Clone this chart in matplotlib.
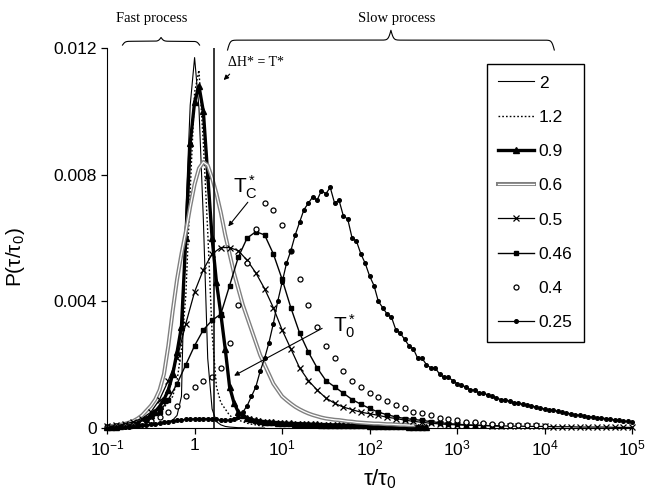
import numpy as np
import matplotlib
matplotlib.use("Agg")
import matplotlib.pyplot as plt
import matplotlib.patheffects as pe

plt.rcParams['font.family'] = ['Liberation Sans', 'DejaVu Sans']
plt.rcParams['mathtext.fontset'] = 'custom'
plt.rcParams['mathtext.rm'] = 'Liberation Sans'
plt.rcParams['mathtext.it'] = 'Liberation Sans:italic'
plt.rcParams['mathtext.bf'] = 'Liberation Sans:bold'

# ---------------- data (log10 tau/tau0 grids + P values) ----------------
p_2 = [0, 0, 0.00001, 0.00001, 0.00002, 0.00002, 0.00003, 0.00004, 0.00005, 0.00006,
       0.00008, 0.0001, 0.00012, 0.00015, 0.0002, 0.00025, 0.0004, 0.0010, 0.0068, 0.0102,
       0.0117, 0.0101, 0.0066, 0.0022, 0.0006, 0.0002, 0.0001, 0.00005, 0.00003, 0.00002,
       0.00001, 0.00001, 0, 0, 0, 0, 0]
p_12 = [0.00001, 0.00002, 0.00003, 0.00004, 0.00005, 0.00007, 0.0001, 0.00013, 0.00017, 0.00022,
        0.0003, 0.0004, 0.00052, 0.00066, 0.0008, 0.001, 0.0015, 0.0025, 0.0042, 0.0075,
        0.0106, 0.0113, 0.0090, 0.0062, 0.0030, 0.0013, 0.0008, 0.0006, 0.0004, 0.0003,
        0.00025, 0.0002, 0.00015, 0.00012, 0.0001, 0.00007, 0.00005]
p_09 = [0.00002, 0.00003, 0.00004, 0.00006, 0.00008, 0.0001, 0.00013, 0.00017, 0.00022, 0.0003,
        0.0004, 0.00052, 0.00068, 0.0009, 0.0012, 0.0017, 0.0024, 0.0032, 0.0060, 0.0090,
        0.0103, 0.0108, 0.0100, 0.0080, 0.0060, 0.0046, 0.0036, 0.0025, 0.0013, 0.0008,
        0.0005, 0.0004, 0.00032, 0.00027, 0.00024, 0.00022, 0.0002, 0.00019, 0.00018, 0.00017,
        0.00016, 0.00015, 0.00015, 0.00014, 0.00014, 0.00013, 0.00013, 0.00012, 0.00012, 0.00011,
        0.00011, 0.0001, 0.0001, 0.0001, 0.00009, 0.00009, 0.00009, 0.00008, 0.00008, 0.00008,
        0.00007, 0.00007, 0.00007, 0.00006, 0.00006, 0.00006, 0.00005, 0.00005, 0.00005, 0.00004,
        0.00004, 0.00004, 0.00003, 0.00003]
p_06 = [0.00005, 0.00006, 0.00008, 0.0001, 0.00013, 0.00017, 0.00022, 0.0003, 0.0004, 0.00055,
        0.0007, 0.0009, 0.0012, 0.0017, 0.0026, 0.0037, 0.0047, 0.0055, 0.0062, 0.0070,
        0.0077, 0.0082, 0.0084, 0.0083, 0.0079, 0.0074, 0.0068, 0.0061, 0.0055, 0.0049,
        0.0044, 0.0039, 0.0035, 0.0031, 0.0027, 0.0023, 0.0020, 0.0017, 0.0014, 0.0012,
        0.0010, 0.00088, 0.00077, 0.00067, 0.00059, 0.00052, 0.00046, 0.00041, 0.00037, 0.00033,
        0.0003, 0.00028, 0.00026, 0.00025, 0.00023, 0.00021, 0.0002, 0.00018, 0.00017, 0.00016,
        0.00015, 0.00014, 0.00014, 0.00013, 0.00012, 0.00012, 0.00011, 0.0001, 0.0001, 0.00009,
        0.00009]
p_05 = [0.00005, 0.00008, 0.00012, 0.0002, 0.0003, 0.0005, 0.0009, 0.0015, 0.0022, 0.0033,
        0.0043, 0.0050, 0.0055, 0.0057, 0.0057, 0.0056, 0.0053, 0.0049, 0.0044, 0.0038,
        0.0031, 0.0025, 0.0019, 0.0015, 0.0012, 0.00095, 0.00078, 0.00066, 0.00058, 0.0005,
        0.00045, 0.0004, 0.00034, 0.0003, 0.00025, 0.00021, 0.00018, 0.00015, 0.00013, 0.00011,
        0.0001, 0.00009, 0.00008, 0.00008, 0.00007, 0.00007, 0.00006, 0.00006, 0.00005, 0.00005,
        0.00005, 0.00004, 0.00004, 0.00004, 0.00003, 0.00003, 0.00003, 0.00003, 0.00002, 0.00002,
        0.00002]
p_046 = [0.00003, 0.00005, 0.00008, 0.00012, 0.0002, 0.0003, 0.0005, 0.0009, 0.0014, 0.0020,
         0.0026, 0.0031, 0.0034, 0.0036, 0.0045, 0.0054, 0.0060, 0.0062, 0.0061, 0.0055,
         0.0047, 0.0038, 0.0030, 0.0024, 0.0019, 0.0015, 0.0013, 0.0011, 0.0009, 0.00075,
         0.00062, 0.0005, 0.00042, 0.00035, 0.0003, 0.00027, 0.00024, 0.0002, 0.00017, 0.00014,
         0.00012, 0.0001, 0.00009, 0.00008, 0.00007, 0.00006]
p_04 = [0.00003, 0.00005, 0.00007, 0.0001, 0.00015, 0.00022, 0.00035, 0.0005, 0.0007, 0.001,
        0.0013, 0.0015, 0.0016, 0.0019, 0.0027, 0.0039, 0.0052, 0.0063, 0.0071, 0.0069,
        0.0064, 0.0056, 0.0047, 0.0039, 0.0032, 0.0026, 0.0022, 0.0018, 0.0015, 0.0013,
        0.0011, 0.00098, 0.00085, 0.00072, 0.00062, 0.00052, 0.00047, 0.0004, 0.00033, 0.00027,
        0.00024, 0.0002, 0.00018, 0.00016, 0.00014, 0.00012, 0.00011, 0.0001, 0.00009, 0.00008,
        0.00007]
p_025 = [0.00001, 0.00001, 0.00002, 0.00002, 0.00003, 0.00004, 0.00005, 0.00006, 0.00008, 0.0001,
         0.00012, 0.00014, 0.00016, 0.00018, 0.0002, 0.00022, 0.00024, 0.00026, 0.00027, 0.00028,
         0.00029, 0.0003, 0.0003, 0.0003, 0.00029, 0.00027, 0.00025, 0.00024, 0.00025, 0.0003,
         0.00035, 0.0005, 0.0007, 0.001, 0.0013, 0.0018, 0.0022, 0.0027, 0.0033, 0.004,
         0.0046, 0.0052, 0.0056, 0.0061, 0.0065, 0.0069, 0.0071, 0.0073, 0.0072, 0.0075,
         0.0074, 0.0076, 0.0071, 0.0072, 0.0067, 0.0066, 0.0060, 0.0059, 0.0055, 0.0052,
         0.0048, 0.0045, 0.0040, 0.0038, 0.0036, 0.0035, 0.0031, 0.0030, 0.0028, 0.0026,
         0.0025, 0.0022, 0.0022, 0.0020, 0.0019, 0.0019, 0.0017, 0.0016, 0.0016, 0.0015,
         0.0014, 0.00135, 0.0013, 0.0012, 0.0012, 0.0011, 0.0011, 0.00105, 0.001, 0.00095,
         0.0009, 0.00088, 0.00085, 0.0008, 0.00078, 0.00075, 0.00073, 0.0007, 0.00066, 0.00063,
         0.0006, 0.00058, 0.00056, 0.00053, 0.0005, 0.00047, 0.00045, 0.00042, 0.0004, 0.00038,
         0.00036, 0.00034, 0.00032, 0.00031, 0.0003, 0.00028, 0.00026, 0.00024, 0.00022, 0.00021,
         0.0002]

# sampling range (log10 start, log10 end) of every series
grid_2 = (-1.0, 0.8)
grid_12 = (-1.0, 0.8)
grid_09 = (-1.0, 2.65)
grid_06 = (-1.0, 2.5)
grid_05 = (-1.0, 5.0)
grid_046 = (-1.0, 3.5)
grid_04 = (-1.0, 4.0)
grid_025 = (-1.0, 5.0)

x_ticks = [0.1, 1, 10, 100, 1000, 10000, 100000]
x_ticklabels = ['$10^{-1}$', '1', '$10^{1}$', '$10^{2}$', '$10^{3}$', '$10^{4}$', '$10^{5}$']
y_ticks = [0, 0.004, 0.008, 0.012]
y_ticklabels = ['0', '0.004', '0.008', '0.012']
dH_x = 1.65  # position of the Delta H* = T* line


def tau(grid, vals):
    return 10 ** np.linspace(grid[0], grid[1], len(vals))


def brace(ax, xa, xb, y_edge, y_main, beta=400):
    # curly brace in axes fraction coordinates
    L = xb - xa
    xs = np.linspace(0, L / 2, 200)
    half = 1 / (1 + np.exp(-beta * xs)) + 1 / (1 + np.exp(-beta * (xs - L / 2)))
    yy = np.concatenate([half, half[-2::-1]])
    xx = np.concatenate([xs, L - xs[-2::-1]]) + xa
    yy = y_edge + (yy - 0.5) * (y_main - y_edge) / 0.5
    ax.plot(xx, yy, color='black', lw=0.8, transform=ax.transAxes, clip_on=False)


def xfrac(x):
    return (np.log10(x) + 1) / 6


fig = plt.figure(figsize=(6.49, 4.94), dpi=100)
ax = fig.add_axes([0.165, 0.1336, 0.809, 0.769])

ax.plot(tau(grid_2, p_2), p_2, color='black', lw=0.8, label='2', clip_on=False)
ax.plot(tau(grid_12, p_12), p_12, color='black', lw=1.0, ls=(0, (1.2, 1.5)), label='1.2', clip_on=False)
ax.plot(tau(grid_09, p_09), p_09, color='black', lw=2.4, marker='^', ms=5, label='0.9', clip_on=False)
ax.plot(tau(grid_06, p_06), p_06, color='white', lw=0.9, label='0.6', clip_on=False,
        path_effects=[pe.Stroke(linewidth=2.9, foreground='0.5'), pe.Normal()])
ax.plot(tau(grid_05, p_05), p_05, color='black', lw=0.9, marker='x', ms=4, mew=0.9, label='0.5', clip_on=False)
ax.plot(tau(grid_046, p_046), p_046, color='black', lw=1.0, marker='s', ms=3.5, label='0.46', clip_on=False)
ax.plot(tau(grid_04, p_04), p_04, color='black', ls='none', marker='o', ms=3.6, mfc='white', mew=0.9,
        label='0.4', clip_on=False)
ax.plot(tau(grid_025, p_025), p_025, color='black', lw=0.9, marker='o', ms=2.6, label='0.25', clip_on=False)

ax.axvline(dH_x, ymin=0, ymax=1, color='black', lw=1.1)

ax.set_xscale('log')
ax.set_xlim(0.1, 1e5)
ax.set_ylim(0, 0.012)
ax.set_xticks(x_ticks)
ax.set_xticklabels(x_ticklabels)
ax.xaxis.set_minor_locator(matplotlib.ticker.NullLocator())
ax.set_yticks(y_ticks)
ax.set_yticklabels(y_ticklabels)
ax.tick_params(labelsize=12.5, direction='out', length=4, width=0.9)
for s in ['top', 'right']:
    ax.spines[s].set_visible(False)

ax.set_ylabel('P(τ/τ$_0$)', fontsize=15)
ax.yaxis.set_label_coords(-0.152, 0.45)
ax.set_xlabel('τ/τ$_0$', fontsize=16)
ax.xaxis.set_label_coords(0.52, -0.105)

# annotations
ax.text(2.38, 0.01156, 'ΔH* = T*', family='Liberation Serif', fontsize=10, va='center', ha='left')
ax.annotate('', xy=(2.04, 0.01093), xytext=(2.65, 0.01124),
            arrowprops=dict(arrowstyle='-|>', color='black', lw=0.8, mutation_scale=7))
ax.text(2.72, 0.00742, 'T$_\\mathrm{C}^*$', fontsize=15, ha='left', va='baseline')
ax.annotate('', xy=(2.32, 0.0063), xytext=(4.25, 0.0072),
            arrowprops=dict(arrowstyle='-|>', color='black', lw=0.8, mutation_scale=7))
ax.text(37.8, 0.00303, 'T$_0^*$', fontsize=15, ha='left', va='baseline')
ax.annotate('', xy=(2.65, 0.00161), xytext=(30.6, 0.00319),
            arrowprops=dict(arrowstyle='-|>', color='black', lw=0.8, mutation_scale=7))

brace(ax, xfrac(0.15), xfrac(1.14), 1.008, 1.018)
brace(ax, xfrac(2.38), xfrac(12900), 0.995, 1.021)
ax.text(xfrac(0.32), 1.079, 'Fast process', transform=ax.transAxes, family='Liberation Serif',
        fontsize=10.5, ha='center', va='center')
ax.text(xfrac(204), 1.079, 'Slow process', transform=ax.transAxes, family='Liberation Serif',
        fontsize=10.5, ha='center', va='center')

leg = ax.legend(loc='upper left', bbox_to_anchor=(0.724, 0.958), fontsize=12.5, frameon=True,
                fancybox=False, edgecolor='black', framealpha=1, numpoints=1,
                handlelength=2.07, handletextpad=0.25, labelspacing=1.1, borderpad=0.65,
                borderaxespad=0)
leg.get_frame().set_linewidth(1.0)

fig.savefig('out.png', dpi=100)
